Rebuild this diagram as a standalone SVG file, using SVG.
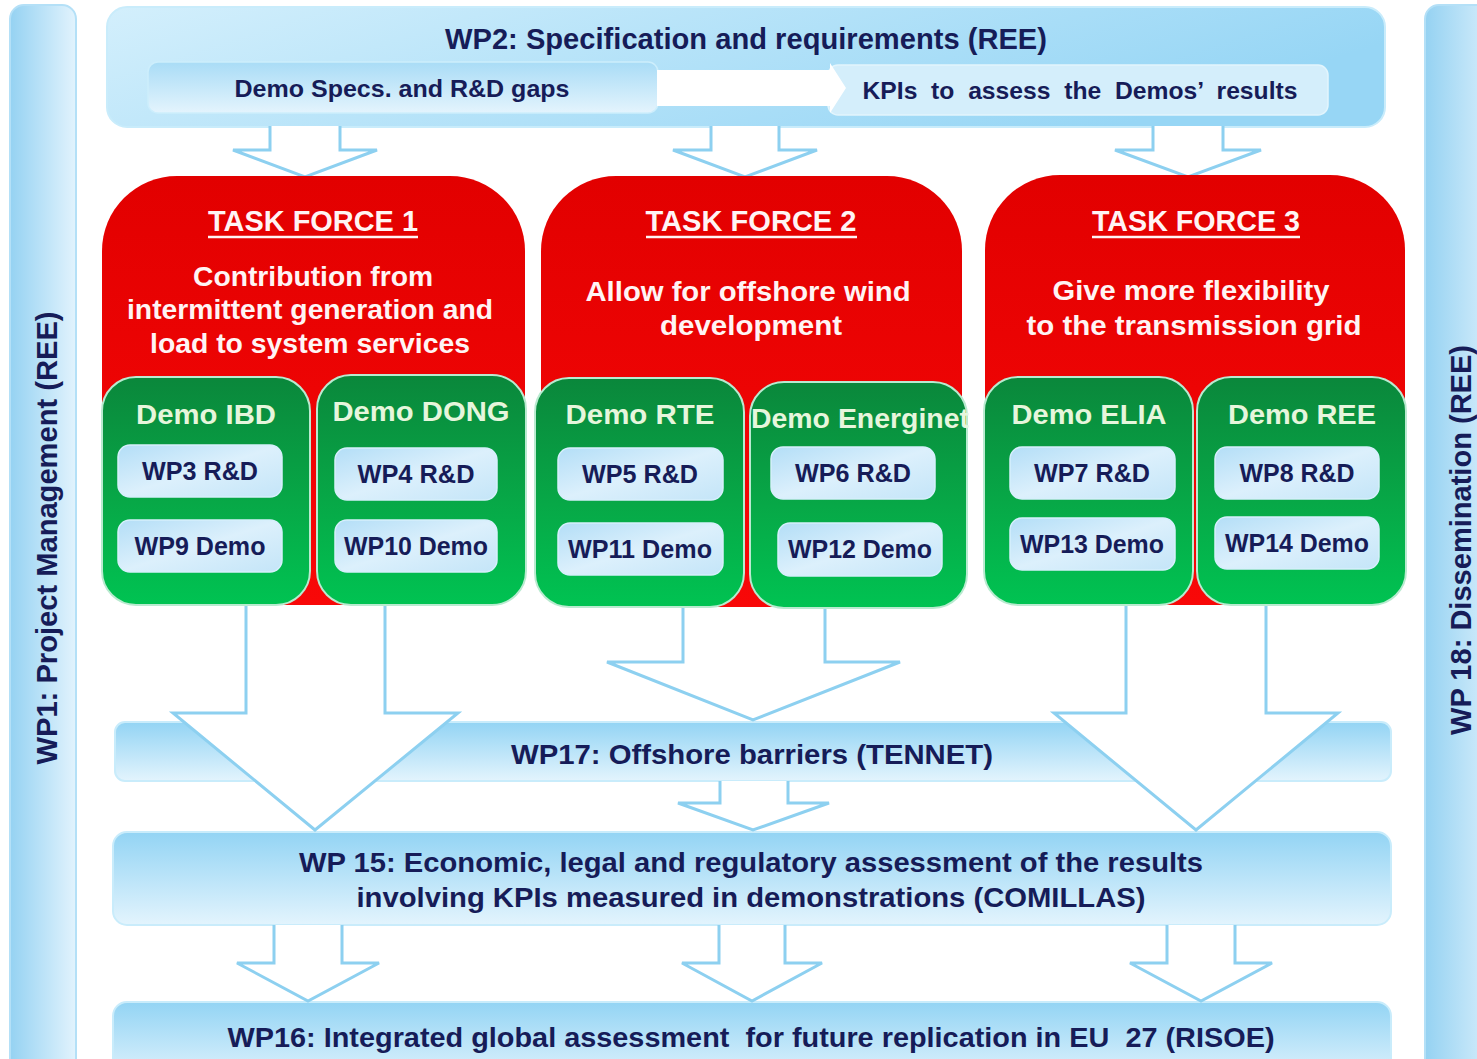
<svg xmlns="http://www.w3.org/2000/svg" width="1477" height="1059" viewBox="0 0 1477 1059">
  <defs>
    <linearGradient id="gBar" x1="0" y1="0" x2="0" y2="1">
      <stop offset="0" stop-color="#93d4f4"/>
      <stop offset="1" stop-color="#e3f4fd"/>
    </linearGradient>
    <linearGradient id="gTop" x1="0" y1="0" x2="1" y2="0.3">
      <stop offset="0" stop-color="#d3effc"/>
      <stop offset="1" stop-color="#97d6f5"/>
    </linearGradient>
    <linearGradient id="gSub" x1="0" y1="0" x2="0" y2="1">
      <stop offset="0" stop-color="#a9dcf6"/>
      <stop offset="1" stop-color="#e4f4fd"/>
    </linearGradient>
    <linearGradient id="gSide" x1="0" y1="0" x2="1" y2="0">
      <stop offset="0" stop-color="#95d2f2"/>
      <stop offset="1" stop-color="#e2f3fd"/>
    </linearGradient>
    <linearGradient id="gRed" x1="0" y1="0" x2="0" y2="1">
      <stop offset="0" stop-color="#e20000"/>
      <stop offset="1" stop-color="#f80808"/>
    </linearGradient>
    <linearGradient id="gGreen" x1="0" y1="0" x2="0" y2="1">
      <stop offset="0" stop-color="#0a873b"/>
      <stop offset="0.55" stop-color="#07a847"/>
      <stop offset="1" stop-color="#00c352"/>
    </linearGradient>
    <linearGradient id="gWp" x1="0" y1="0" x2="1" y2="1">
      <stop offset="0" stop-color="#b3def7"/>
      <stop offset="0.5" stop-color="#dcf0fc"/>
      <stop offset="1" stop-color="#c4e5f8"/>
    </linearGradient>
  </defs>
  <style>
    text { font-family: "Liberation Sans", Arial, sans-serif; font-weight: bold; text-anchor: middle; }
    .navy { fill: #161c58; }
    .light { fill: #fff4f4; }
    .pale { fill: #e6f6dc; }
    .bar { fill: url(#gBar); stroke: #c9ecfb; stroke-width: 2; }
    .side { fill: url(#gSide); stroke: #b4e0f7; stroke-width: 2; }
    .tf { fill: url(#gRed); }
    .demo { fill: url(#gGreen); stroke: #b9ead0; stroke-width: 2; }
    .wp { fill: url(#gWp); stroke: #d6effc; stroke-width: 1.5; }
    .arrow { fill: #ffffff; stroke: #8dd0f0; stroke-width: 3; stroke-linejoin: miter; }
    .ul { stroke: #fff4f4; stroke-width: 2.5; }
  </style>

  <rect width="1477" height="1059" fill="#ffffff"/>

  <!-- side bars -->
  <g id="wp1">
    <rect class="side" x="10" y="5" width="66" height="1080" rx="14"/>
    <text class="navy" font-size="29" textLength="453" lengthAdjust="spacingAndGlyphs" transform="translate(57,538) rotate(-90)">WP1: Project Management (REE)</text>
  </g>
  <g id="wp18">
    <rect class="side" x="1425" y="5" width="80" height="1080" rx="14"/>
    <text class="navy" font-size="29" textLength="390" lengthAdjust="spacingAndGlyphs" transform="translate(1471,540) rotate(-90)">WP 18: Dissemination (REE)</text>
  </g>

  <!-- WP2 -->
  <g id="wp2">
    <rect x="107" y="7" width="1278" height="120" rx="20" fill="url(#gTop)" stroke="#c9ecfb" stroke-width="2"/>
    <text class="navy" x="746" y="49" font-size="29" textLength="602" lengthAdjust="spacingAndGlyphs">WP2: Specification and requirements (REE)</text>
    <rect x="148" y="62" width="510" height="51" rx="10" fill="url(#gSub)" stroke="#cdeefc" stroke-width="1.5"/>
    <rect x="828" y="65" width="500" height="50" rx="10" fill="#d4eefb" stroke="#e2f5fd" stroke-width="1.5"/>
    <polygon points="657,70 830,70 830,63 846,88 830,113 830,106 657,106" fill="#ffffff"/>
    <text class="navy" x="402" y="97" font-size="24" textLength="335" lengthAdjust="spacingAndGlyphs">Demo Specs. and R&amp;D gaps</text>
    <text class="navy" x="1080" y="99" font-size="24" textLength="435" lengthAdjust="spacingAndGlyphs" xml:space="preserve">KPIs  to  assess  the  Demos’  results</text>
  </g>

  <!-- lower work packages -->
  <g id="wp17">
    <rect class="bar" x="115" y="722" width="1276" height="59" rx="10"/>
    <text class="navy" x="752" y="764" font-size="28" textLength="482" lengthAdjust="spacingAndGlyphs">WP17: Offshore barriers (TENNET)</text>
  </g>
  <g id="wp15">
    <rect class="bar" x="113" y="832" width="1278" height="93" rx="14"/>
    <text class="navy" x="751" y="872" font-size="28" textLength="904" lengthAdjust="spacingAndGlyphs">WP 15: Economic, legal and regulatory assessment of the results</text>
    <text class="navy" x="751" y="907" font-size="28" textLength="789" lengthAdjust="spacingAndGlyphs">involving KPIs measured in demonstrations (COMILLAS)</text>
  </g>
  <g id="wp16">
    <rect class="bar" x="113" y="1002" width="1278" height="80" rx="14"/>
    <text class="navy" x="751" y="1047" font-size="28" textLength="1047" lengthAdjust="spacingAndGlyphs" xml:space="preserve">WP16: Integrated global assessment  for future replication in EU  27 (RISOE)</text>
  </g>

  <!-- block arrows between work packages -->
  <g id="connectors">
    <path class="arrow" d="M270,126 V150 H233 L305,177 L377,150 H340 V126"/>
    <path class="arrow" d="M711,126 V150 H673 L745,177 L817,150 H779 V126"/>
    <path class="arrow" d="M1153,126 V150 H1115 L1188,177 L1261,150 H1223 V126"/>

    <path class="arrow" d="M246,603 V713 H173 L315,830 L458,713 H385 V603"/>
    <path class="arrow" d="M683,603 V662 H607 L753,720 L900,662 H825 V603"/>
    <path class="arrow" d="M1126,603 V713 H1054 L1196,830 L1338,713 H1266 V603"/>

    <path class="arrow" d="M720,781 V803 H678 L753,830 L829,803 H788 V781"/>

    <path class="arrow" d="M274,925 V963 H237 L308,1001 L379,963 H342 V925"/>
    <path class="arrow" d="M719,925 V963 H682 L752,1001 L822,963 H785 V925"/>
    <path class="arrow" d="M1167,925 V963 H1130 L1201,1001 L1272,963 H1235 V925"/>
  </g>

  <!-- Task force 1 -->
  <g id="tf1">
    <path class="tf" d="M102,571 V251 A75,75 0 0 1 177,176 H450 A75,75 0 0 1 525,251 V571 A34,34 0 0 1 491,605 H136 A34,34 0 0 1 102,571 Z"/>
    <text class="light" x="313" y="231" font-size="29" textLength="210" lengthAdjust="spacingAndGlyphs">TASK FORCE 1</text>
    <line class="ul" x1="208" y1="237" x2="418" y2="237"/>
    <text class="light" x="313" y="286" font-size="28" textLength="240" lengthAdjust="spacingAndGlyphs">Contribution from</text>
    <text class="light" x="310" y="319" font-size="28" textLength="366" lengthAdjust="spacingAndGlyphs">intermittent generation and</text>
    <text class="light" x="310" y="353" font-size="28" textLength="320" lengthAdjust="spacingAndGlyphs">load to system services</text>
  </g>
  <g id="demo-ibd">
    <rect class="demo" x="102" y="377" width="208" height="228" rx="34"/>
    <text class="pale" x="206" y="424" font-size="28" textLength="140" lengthAdjust="spacingAndGlyphs">Demo IBD</text>
    <rect class="wp" x="118" y="445" width="164" height="52" rx="12"/>
    <text class="navy" x="200" y="480" font-size="25" textLength="116" lengthAdjust="spacingAndGlyphs">WP3 R&amp;D</text>
    <rect class="wp" x="118" y="520" width="164" height="52" rx="12"/>
    <text class="navy" x="200" y="555" font-size="25" textLength="131" lengthAdjust="spacingAndGlyphs">WP9 Demo</text>
  </g>
  <g id="demo-dong">
    <rect class="demo" x="317" y="375" width="209" height="230" rx="34"/>
    <text class="pale" x="421" y="421" font-size="28" textLength="177" lengthAdjust="spacingAndGlyphs">Demo DONG</text>
    <rect class="wp" x="335" y="448" width="162" height="52" rx="12"/>
    <text class="navy" x="416" y="483" font-size="25" textLength="117" lengthAdjust="spacingAndGlyphs">WP4 R&amp;D</text>
    <rect class="wp" x="335" y="520" width="162" height="52" rx="12"/>
    <text class="navy" x="416" y="555" font-size="25" textLength="144" lengthAdjust="spacingAndGlyphs">WP10 Demo</text>
  </g>

  <!-- Task force 2 -->
  <g id="tf2">
    <path class="tf" d="M541,573 V251 A75,75 0 0 1 616,176 H887 A75,75 0 0 1 962,251 V573 A34,34 0 0 1 928,607 H575 A34,34 0 0 1 541,573 Z"/>
    <text class="light" x="751" y="231" font-size="29" textLength="211" lengthAdjust="spacingAndGlyphs">TASK FORCE 2</text>
    <line class="ul" x1="646" y1="237" x2="857" y2="237"/>
    <text class="light" x="748" y="301" font-size="28" textLength="325" lengthAdjust="spacingAndGlyphs">Allow for offshore wind</text>
    <text class="light" x="751" y="335" font-size="28" textLength="182" lengthAdjust="spacingAndGlyphs">development</text>
  </g>
  <g id="demo-rte">
    <rect class="demo" x="535" y="378" width="209" height="229" rx="34"/>
    <text class="pale" x="640" y="424" font-size="28" textLength="149" lengthAdjust="spacingAndGlyphs">Demo RTE</text>
    <rect class="wp" x="558" y="448" width="165" height="52" rx="12"/>
    <text class="navy" x="640" y="483" font-size="25" textLength="116" lengthAdjust="spacingAndGlyphs">WP5 R&amp;D</text>
    <rect class="wp" x="558" y="523" width="165" height="52" rx="12"/>
    <text class="navy" x="640" y="558" font-size="25" textLength="144" lengthAdjust="spacingAndGlyphs">WP11 Demo</text>
  </g>
  <g id="demo-energinet">
    <rect class="demo" x="750" y="382" width="217" height="226" rx="34"/>
    <text class="pale" x="860" y="428" font-size="27" textLength="218" lengthAdjust="spacingAndGlyphs">Demo Energinet</text>
    <rect class="wp" x="771" y="447" width="164" height="52" rx="12"/>
    <text class="navy" x="853" y="482" font-size="25" textLength="116" lengthAdjust="spacingAndGlyphs">WP6 R&amp;D</text>
    <rect class="wp" x="778" y="523" width="164" height="53" rx="12"/>
    <text class="navy" x="860" y="558" font-size="25" textLength="144" lengthAdjust="spacingAndGlyphs">WP12 Demo</text>
  </g>

  <!-- Task force 3 -->
  <g id="tf3">
    <path class="tf" d="M985,571 V250 A75,75 0 0 1 1060,175 H1330 A75,75 0 0 1 1405,250 V571 A34,34 0 0 1 1371,605 H1019 A34,34 0 0 1 985,571 Z"/>
    <text class="light" x="1196" y="231" font-size="29" textLength="208" lengthAdjust="spacingAndGlyphs">TASK FORCE 3</text>
    <line class="ul" x1="1092" y1="237" x2="1300" y2="237"/>
    <text class="light" x="1191" y="300" font-size="28" textLength="277" lengthAdjust="spacingAndGlyphs">Give more flexibility</text>
    <text class="light" x="1194" y="335" font-size="28" textLength="335" lengthAdjust="spacingAndGlyphs">to the transmission grid</text>
  </g>
  <g id="demo-elia">
    <rect class="demo" x="984" y="377" width="209" height="228" rx="34"/>
    <text class="pale" x="1089" y="424" font-size="28" textLength="155" lengthAdjust="spacingAndGlyphs">Demo ELIA</text>
    <rect class="wp" x="1010" y="447" width="165" height="52" rx="12"/>
    <text class="navy" x="1092" y="482" font-size="25" textLength="116" lengthAdjust="spacingAndGlyphs">WP7 R&amp;D</text>
    <rect class="wp" x="1010" y="518" width="165" height="52" rx="12"/>
    <text class="navy" x="1092" y="553" font-size="25" textLength="144" lengthAdjust="spacingAndGlyphs">WP13 Demo</text>
  </g>
  <g id="demo-ree">
    <rect class="demo" x="1197" y="377" width="209" height="228" rx="34"/>
    <text class="pale" x="1302" y="424" font-size="28" textLength="148" lengthAdjust="spacingAndGlyphs">Demo REE</text>
    <rect class="wp" x="1215" y="447" width="164" height="52" rx="12"/>
    <text class="navy" x="1297" y="482" font-size="25" textLength="115" lengthAdjust="spacingAndGlyphs">WP8 R&amp;D</text>
    <rect class="wp" x="1215" y="517" width="164" height="52" rx="12"/>
    <text class="navy" x="1297" y="552" font-size="25" textLength="144" lengthAdjust="spacingAndGlyphs">WP14 Demo</text>
  </g>
</svg>
